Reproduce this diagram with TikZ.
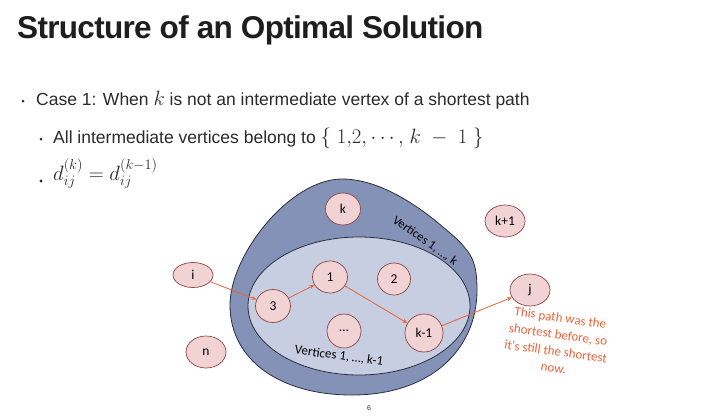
\documentclass[tikz,border=0pt]{standalone}
\usepackage{fontspec}
\usepackage{amsmath}
\setmainfont{Liberation Sans}
\newfontfamily\calib{Carlito}
\usetikzlibrary{arrows.meta,shapes.geometric}
\definecolor{outerblue}{HTML}{8592B8}
\definecolor{innerblue}{HTML}{C8CEE2}
\definecolor{edgeblue}{HTML}{2A2E40}
\definecolor{nodefill}{HTML}{F2D3D3}
\definecolor{nodeedge}{HTML}{8A4545}
\definecolor{pathorange}{HTML}{EA6439}
\definecolor{titlegray}{HTML}{1E1E1E}
\definecolor{bodygray}{HTML}{2A2A2A}
\newcommand{\largemath}[1]{{\fontsize{22.5}{24}\selectfont$#1$}}
\begin{document}
\begin{tikzpicture}[x=1pt,y=-1pt,
  vert/.style={ellipse,draw=nodeedge,fill=nodefill,line width=0.7pt,inner sep=0pt,font=\calib\fontsize{13.5}{15}\selectfont,text=black},
  patharrow/.style={draw=pathorange,line width=0.8pt,-{Stealth[length=5pt,width=4pt]}},
  bodytext/.style={anchor=base west,inner sep=0pt,text=bodygray,font=\fontsize{17.5}{20}\selectfont},
  bullet/.style={circle,fill=bodygray,inner sep=0pt,minimum size=3pt}]
\useasboundingbox (0,0) rectangle (706,415);
\fill[white] (0,0) rectangle (706,415);
% title
\node[anchor=base west,inner sep=0pt,text=titlegray,font=\fontsize{31.5}{34}\selectfont\bfseries\addfontfeature{LetterSpace=-2.2}] (title) at (17,38.5) {Structure of an Optimal Solution};
% bullets
\node[bullet] (b1) at (23,101) {};
\node[bodytext] (t1) at (36,105) {Case 1: When \largemath{k} is not an intermediate vertex of a shortest path};
\node[bullet] (b2) at (41,139) {};
\node[bodytext] (t2) at (53,143) {All intermediate vertices belong to \largemath{\{\;1{,}2{,}\cdots{,}\;k\;-\;1\;\}}};
\node[bullet,minimum size=3.4pt] (b3) at (41,181) {};
\node[bodytext] (t3) at (53,180) {\largemath{d_{ij}^{(k)}=d_{ij}^{(k-1)}}};
% outer blob
\path[fill=outerblue,draw=edgeblue,line width=0.8pt]
  (342,179) .. controls (375,179) and (410,200) .. (437,222)
  .. controls (450,233) and (460,241) .. (465,248)
  .. controls (472,256) and (477,265) .. (477,290)
  .. controls (477,350) and (430,395) .. (352,395)
  .. controls (280,395) and (230,360) .. (230,305)
  .. controls (230,255) and (290,179) .. (342,179) -- cycle;
% inner ellipse
\path[fill=innerblue,draw=edgeblue,line width=0.8pt] (359,306) ellipse [x radius=111, y radius=69];
% labels in blob
\node[rotate=-35,font=\calib\fontsize{12.5}{14}\selectfont,text=black,inner sep=0pt] (lk) at (425,241) {Vertices 1, \dots, k};
\node[rotate=-7.5,font=\calib\fontsize{13}{14}\selectfont,text=black,inner sep=0pt] (lk1) at (339,356) {Vertices 1, \dots, k-1};
% vertices
\node[vert,minimum width=40pt,minimum height=25pt] (i) at (193,275) {i};
\node[vert,minimum width=35pt,minimum height=33pt] (v3) at (273,306) {3};
\node[vert,minimum width=35pt,minimum height=32pt] (v1) at (330,277) {1};
\node[vert,minimum width=33pt,minimum height=32pt] (v2) at (394,279) {2};
\node[vert,minimum width=34pt,minimum height=34pt] (vd) at (344,331) {\dots};
\node[vert,minimum width=38pt,minimum height=38pt] (vk1) at (424,333) {k-1};
\node[vert,minimum width=35pt,minimum height=32pt] (vk) at (343,209) {k};
\node[vert,minimum width=40pt,minimum height=32pt] (vkp) at (505,221) {k+1};
\node[vert,minimum width=40pt,minimum height=32pt] (j) at (530,290) {j};
\node[vert,minimum width=40pt,minimum height=32pt] (n) at (206,352) {n};
% path
\draw[patharrow] (i) -- (v3);
\draw[patharrow] (v3) -- (v1);
\draw[patharrow] (v1) -- (vk1);
\draw[patharrow] (vk1) -- (j);
% annotation
\node[rotate=-8,align=center,text=pathorange,font=\calib\fontsize{13}{17}\selectfont,inner sep=0pt] (note) at (557,343) {This path was the\\shortest before, so\\it's still the shortest\\now.};
% page number
\node[font=\fontsize{7}{8}\selectfont,text=bodygray] (pg) at (369,408) {6};
\end{tikzpicture}
\end{document}
